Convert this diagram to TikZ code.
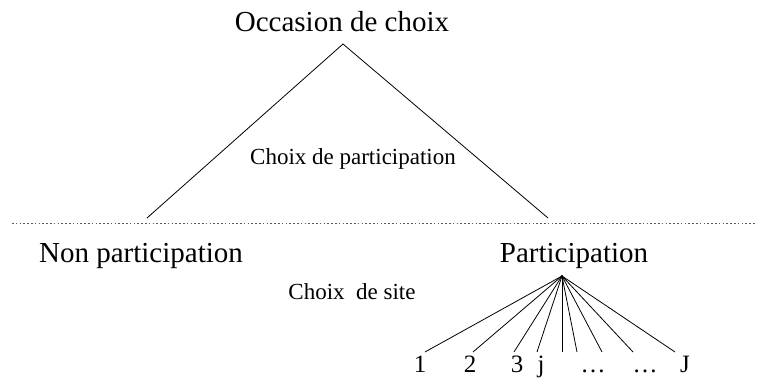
\documentclass[tikz,border=0pt]{standalone}
\usepackage{fontspec}
\setmainfont{Liberation Serif}
\usepackage{tikz}

\begin{document}
\begin{tikzpicture}[x=1pt,y=-1pt]
\tikzstyle{every path}=[line width=.8pt]
\tikzstyle{bigtxt}=[anchor=base,inner sep=0pt,font=\fontsize{29}{31}\selectfont]
\tikzstyle{smalltxt}=[anchor=base,inner sep=0pt,font=\fontsize{23}{25}\selectfont]
\tikzstyle{sitetxt}=[anchor=base,inner sep=0pt,font=\fontsize{25}{27}\selectfont]
\tikzstyle{sep}=[draw=black!65,dash pattern=on 1.6pt off 2.2pt]
\useasboundingbox (0,0) rectangle (758,382);
% niveau 1
\node [bigtxt] (occ) at (342,32) {Occasion de choix};
\coordinate (top) at (343,44);
\coordinate (lend) at (147,218);
\coordinate (rend) at (548,218);
\draw (lend) -- (top) -- (rend);
\node [smalltxt] (cpart) at (353,165) {Choix de participation};
% separation
\coordinate (sepl) at (12,223);
\coordinate (sepr) at (756,223);
\draw [sep] (sepl) -- (sepr);
% niveau 2
\node [bigtxt] (nonpart) at (141,262) {Non participation};
\node [bigtxt] (part) at (574,262) {Participation};
\node [smalltxt] (csite) at (352,299) {Choix\ \ de site};
\coordinate (fan) at (562,276);
\fill (fan) circle (1.2pt);
% sites
\node [sitetxt] (s1) at (420,372) {1};
\node [sitetxt] (s2) at (470,372) {2};
\node [sitetxt] (s3) at (517,372) {3};
\node [sitetxt] (sj) at (541,372) {j};
\node [sitetxt] (sd1) at (593,372) {\ldots};
\node [sitetxt] (sd2) at (645,372) {\ldots};
\node [sitetxt] (sJ) at (685,372) {J};
\coordinate (e1) at (425,352);
\coordinate (e2) at (473,352);
\coordinate (e3) at (514,352);
\coordinate (e4) at (537,352);
\coordinate (e5) at (562,352);
\coordinate (e6) at (577,352);
\coordinate (e7) at (602,352);
\coordinate (e8) at (633,352);
\coordinate (e9) at (675,352);
\draw (fan) -- (e1);
\draw (fan) -- (e2);
\draw (fan) -- (e3);
\draw (fan) -- (e4);
\draw (fan) -- (e5);
\draw (fan) -- (e6);
\draw (fan) -- (e7);
\draw (fan) -- (e8);
\draw (fan) -- (e9);
\end{tikzpicture}
\end{document}
